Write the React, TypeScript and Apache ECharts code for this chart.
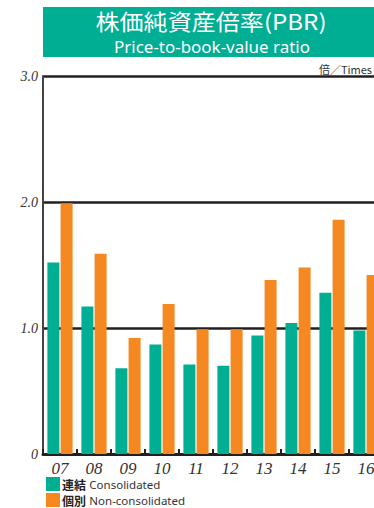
import React, { useEffect, useRef } from "react";
import * as echarts from "echarts";

const categories = ["07", "08", "09", "10", "11", "12", "13", "14", "15", "16"];
const consolidated = [1.52, 1.17, 0.68, 0.87, 0.71, 0.7, 0.94, 1.04, 1.28, 0.98];
const nonConsolidated = [1.99, 1.59, 0.92, 1.19, 0.99, 0.99, 1.38, 1.48, 1.86, 1.42];
const yTicks = [0, 1, 2, 3];
const titleJa = "株価純資産倍率(PBR)";
const titleEn = "Price-to-book-value ratio";
const unitLabel = "倍／Times";
const legendJa = ["連結", "個別"];
const legendEn = ["Consolidated", "Non-consolidated"];
const legendNames = ["連結 Consolidated", "個別 Non-consolidated"];

const TEAL = "#00ae94";
const ORANGE = "#f58820";
const DARK = "#231f20";

const legendFor = (i: number, top: number) => ({
  orient: "vertical",
  left: 46,
  top,
  padding: 0,
  itemWidth: 14,
  itemHeight: 14,
  itemGap: 0,
  icon: "rect",
  data: [legendNames[i]],
  formatter: () => `{ja|${legendJa[i]}} {en|${legendEn[i]}}`,
  textStyle: {
    padding: [0, 0, 0, -3],
    lineHeight: 14,
    rich: {
      ja: { fontFamily: "'Noto Sans CJK JP', sans-serif", fontSize: 12, lineHeight: 14, color: "#231f20", fontWeight: "bold" },
      en: { fontFamily: "'Noto Sans', sans-serif", fontSize: 11.5, lineHeight: 14, color: "#333" },
    },
  },
});

export default function App() {
  const ref = useRef<HTMLDivElement>(null);
  useEffect(() => {
    if (!ref.current) return;
    const chart = echarts.init(ref.current, null, { renderer: "svg" });
    chart.setOption({
      animation: false,
      grid: { left: 43, top: 76, width: 340, height: 378, containLabel: false },
      legend: [legendFor(0, 477), legendFor(1, 493)],
      xAxis: {
        type: "category",
        data: categories,
        axisLine: { show: true, lineStyle: { color: DARK, width: 3 } },
        axisTick: { show: true, inside: true, length: 5, lineStyle: { color: DARK, width: 2 } },
        axisLabel: {
          fontFamily: "'Liberation Serif', 'DejaVu Serif', serif",
          fontStyle: "italic",
          fontSize: 17,
          color: "#333",
          margin: 6,
        },
      },
      yAxis: {
        type: "value",
        min: yTicks[0],
        max: yTicks[yTicks.length - 1],
        interval: 1,
        axisLine: { show: true, lineStyle: { color: "#444", width: 2 } },
        axisTick: { show: false },
        splitLine: {
          show: true,
          lineStyle: { color: DARK, width: 2.5 },
        },
        axisLabel: {
          fontFamily: "'Liberation Serif', 'DejaVu Serif', serif",
          fontStyle: "italic",
          fontSize: 14,
          color: "#333",
          margin: 5,
          formatter: (v: number) => (v === 0 ? "0" : v.toFixed(1)),
        },
      },
      series: [
        {
          name: legendNames[0],
          type: "bar",
          data: consolidated,
          barWidth: 12,
          barGap: "10%",
          itemStyle: { color: TEAL },
        },
        {
          name: legendNames[1],
          type: "bar",
          data: nonConsolidated,
          barWidth: 12,
          barGap: "10%",
          itemStyle: { color: ORANGE },
        },
      ],
      graphic: [
        { type: "rect", shape: { x: 43, y: 7, width: 331, height: 50 }, style: { fill: TEAL } },
        {
          type: "text",
          x: 211,
          y: 21,
          scaleX: 1.12,
          style: {
            text: titleJa,
            fill: "#fff",
            fontSize: 21.5,
            fontFamily: "'Noto Sans CJK JP', sans-serif",
            align: "center",
            verticalAlign: "middle",
          },
        },
        {
          type: "text",
          x: 212,
          y: 47,
          scaleX: 1.06,
          style: {
            text: titleEn,
            fill: "#fff",
            fontSize: 16,
            fontFamily: "'Noto Sans', sans-serif",
            align: "center",
            verticalAlign: "middle",
          },
        },
        {
          type: "text",
          x: 372,
          y: 63,
          style: {
            text: unitLabel,
            fill: "#333",
            fontSize: 11,
            fontFamily: "'Noto Sans CJK JP', sans-serif",
            align: "right",
            verticalAlign: "top",
          },
        },
      ],
    });
    return () => chart.dispose();
  }, []);
  return (
    <div style={{ position: "fixed", left: 0, top: 0, width: 374, height: 508, overflow: "hidden", background: "#fff" }}>
      <div ref={ref} style={{ width: 400, height: 508 }} />
    </div>
  );
}
